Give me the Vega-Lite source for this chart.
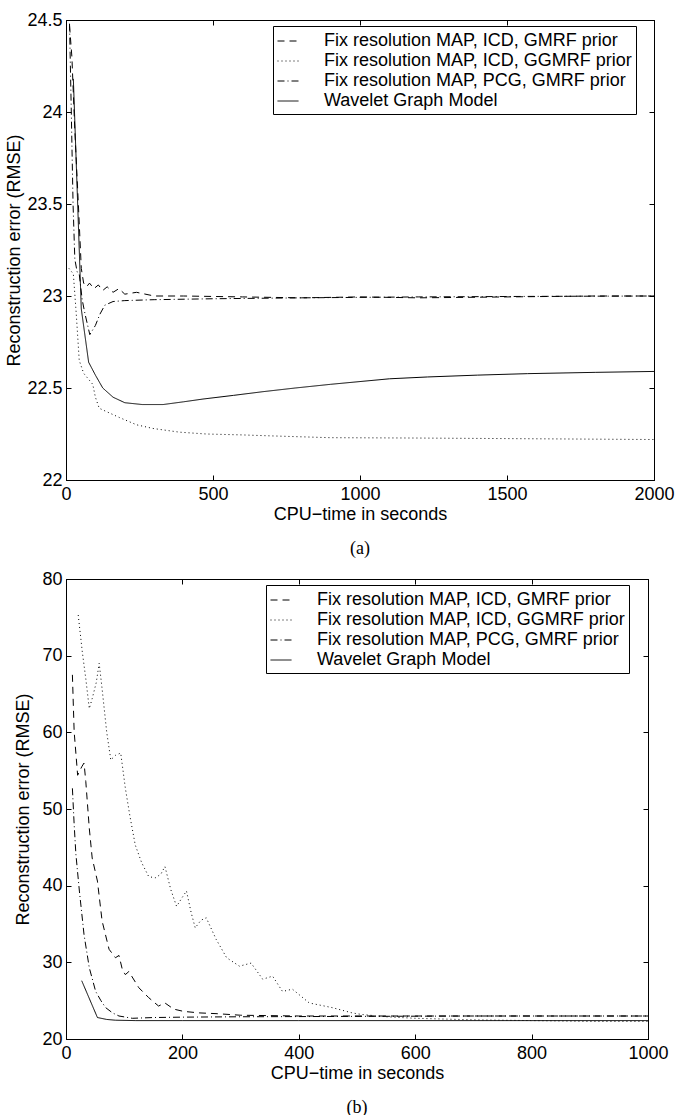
{
  "$schema": "https://vega.github.io/schema/vega-lite/v6.json",
  "background": "white",
  "padding": {"left": 5, "top": 10, "right": 4, "bottom": 0},
  "config": {
    "font": "Liberation Sans",
    "view": {"stroke": "black", "strokeWidth": 1},
    "axis": {
      "grid": false, "domainColor": "black", "domainWidth": 1, "tickColor": "black", "tickWidth": 1,
      "labelColor": "black", "titleColor": "black", "labelFont": "Liberation Sans", "titleFont": "Liberation Sans",
      "labelFontSize": 18, "titleFontSize": 18, "titleFontWeight": "normal",
      "tickSize": -5, "labelFlush": false, "labelOverlap": false
    },
    "axisX": {"labelPadding": 10, "titlePadding": 2},
    "axisY": {"labelPadding": 9},
    "legend": {
      "orient": "none", "fillColor": "white", "strokeColor": "black", "padding": 4,
      "symbolType": "stroke", "symbolStrokeColor": "black", "symbolStrokeWidth": 1, "symbolSize": 441,
      "labelFont": "Liberation Sans", "labelFontSize": 18, "labelColor": "black", "labelLimit": 500,
      "rowPadding": 0, "labelOffset": 25
    },
    "title": {"font": "Liberation Serif", "fontSize": 18, "fontWeight": "normal", "orient": "bottom", "color": "black", "offset": 17}
  },
  "datasets": {
    "a": [
      {"s": "Fix resolution MAP, ICD, GMRF prior", "t": 12, "e": 24.47},
      {"s": "Fix resolution MAP, ICD, GMRF prior", "t": 20, "e": 24.3},
      {"s": "Fix resolution MAP, ICD, GMRF prior", "t": 30, "e": 23.9},
      {"s": "Fix resolution MAP, ICD, GMRF prior", "t": 42, "e": 23.5},
      {"s": "Fix resolution MAP, ICD, GMRF prior", "t": 52, "e": 23.15},
      {"s": "Fix resolution MAP, ICD, GMRF prior", "t": 60, "e": 23.07},
      {"s": "Fix resolution MAP, ICD, GMRF prior", "t": 70, "e": 23.05},
      {"s": "Fix resolution MAP, ICD, GMRF prior", "t": 80, "e": 23.07},
      {"s": "Fix resolution MAP, ICD, GMRF prior", "t": 95, "e": 23.04},
      {"s": "Fix resolution MAP, ICD, GMRF prior", "t": 110, "e": 23.06},
      {"s": "Fix resolution MAP, ICD, GMRF prior", "t": 125, "e": 23.03},
      {"s": "Fix resolution MAP, ICD, GMRF prior", "t": 140, "e": 23.05},
      {"s": "Fix resolution MAP, ICD, GMRF prior", "t": 160, "e": 23.02},
      {"s": "Fix resolution MAP, ICD, GMRF prior", "t": 180, "e": 23.04},
      {"s": "Fix resolution MAP, ICD, GMRF prior", "t": 200, "e": 23.01},
      {"s": "Fix resolution MAP, ICD, GMRF prior", "t": 240, "e": 23.02},
      {"s": "Fix resolution MAP, ICD, GMRF prior", "t": 300, "e": 23.0},
      {"s": "Fix resolution MAP, ICD, GMRF prior", "t": 400, "e": 23.0},
      {"s": "Fix resolution MAP, ICD, GMRF prior", "t": 600, "e": 22.995},
      {"s": "Fix resolution MAP, ICD, GMRF prior", "t": 800, "e": 22.99},
      {"s": "Fix resolution MAP, ICD, GMRF prior", "t": 1000, "e": 22.995},
      {"s": "Fix resolution MAP, ICD, GMRF prior", "t": 1200, "e": 22.99},
      {"s": "Fix resolution MAP, ICD, GMRF prior", "t": 1500, "e": 22.995},
      {"s": "Fix resolution MAP, ICD, GMRF prior", "t": 1800, "e": 23.0},
      {"s": "Fix resolution MAP, ICD, GMRF prior", "t": 2000, "e": 23.0},

      {"s": "Fix resolution MAP, ICD, GGMRF prior", "t": 10, "e": 23.15},
      {"s": "Fix resolution MAP, ICD, GGMRF prior", "t": 25, "e": 23.12},
      {"s": "Fix resolution MAP, ICD, GGMRF prior", "t": 35, "e": 22.9},
      {"s": "Fix resolution MAP, ICD, GGMRF prior", "t": 45, "e": 22.65},
      {"s": "Fix resolution MAP, ICD, GGMRF prior", "t": 60, "e": 22.58},
      {"s": "Fix resolution MAP, ICD, GGMRF prior", "t": 91, "e": 22.52},
      {"s": "Fix resolution MAP, ICD, GGMRF prior", "t": 100, "e": 22.45},
      {"s": "Fix resolution MAP, ICD, GGMRF prior", "t": 113, "e": 22.39},
      {"s": "Fix resolution MAP, ICD, GGMRF prior", "t": 140, "e": 22.37},
      {"s": "Fix resolution MAP, ICD, GGMRF prior", "t": 181, "e": 22.34},
      {"s": "Fix resolution MAP, ICD, GGMRF prior", "t": 240, "e": 22.3},
      {"s": "Fix resolution MAP, ICD, GGMRF prior", "t": 296, "e": 22.28},
      {"s": "Fix resolution MAP, ICD, GGMRF prior", "t": 386, "e": 22.26},
      {"s": "Fix resolution MAP, ICD, GGMRF prior", "t": 477, "e": 22.25},
      {"s": "Fix resolution MAP, ICD, GGMRF prior", "t": 600, "e": 22.245},
      {"s": "Fix resolution MAP, ICD, GGMRF prior", "t": 693, "e": 22.24},
      {"s": "Fix resolution MAP, ICD, GGMRF prior", "t": 897, "e": 22.23},
      {"s": "Fix resolution MAP, ICD, GGMRF prior", "t": 1200, "e": 22.228},
      {"s": "Fix resolution MAP, ICD, GGMRF prior", "t": 1500, "e": 22.225},
      {"s": "Fix resolution MAP, ICD, GGMRF prior", "t": 2000, "e": 22.22},

      {"s": "Fix resolution MAP, PCG, GMRF prior", "t": 12, "e": 24.48},
      {"s": "Fix resolution MAP, PCG, GMRF prior", "t": 18, "e": 24.0},
      {"s": "Fix resolution MAP, PCG, GMRF prior", "t": 24, "e": 23.5},
      {"s": "Fix resolution MAP, PCG, GMRF prior", "t": 30, "e": 23.2},
      {"s": "Fix resolution MAP, PCG, GMRF prior", "t": 38, "e": 23.13},
      {"s": "Fix resolution MAP, PCG, GMRF prior", "t": 45, "e": 23.12},
      {"s": "Fix resolution MAP, PCG, GMRF prior", "t": 55, "e": 22.98},
      {"s": "Fix resolution MAP, PCG, GMRF prior", "t": 65, "e": 22.9},
      {"s": "Fix resolution MAP, PCG, GMRF prior", "t": 81, "e": 22.79},
      {"s": "Fix resolution MAP, PCG, GMRF prior", "t": 100, "e": 22.84},
      {"s": "Fix resolution MAP, PCG, GMRF prior", "t": 115, "e": 22.9},
      {"s": "Fix resolution MAP, PCG, GMRF prior", "t": 132, "e": 22.95},
      {"s": "Fix resolution MAP, PCG, GMRF prior", "t": 160, "e": 22.97},
      {"s": "Fix resolution MAP, PCG, GMRF prior", "t": 200, "e": 22.975},
      {"s": "Fix resolution MAP, PCG, GMRF prior", "t": 300, "e": 22.98},
      {"s": "Fix resolution MAP, PCG, GMRF prior", "t": 500, "e": 22.985},
      {"s": "Fix resolution MAP, PCG, GMRF prior", "t": 800, "e": 22.99},
      {"s": "Fix resolution MAP, PCG, GMRF prior", "t": 1200, "e": 22.995},
      {"s": "Fix resolution MAP, PCG, GMRF prior", "t": 1600, "e": 22.998},
      {"s": "Fix resolution MAP, PCG, GMRF prior", "t": 2000, "e": 23.0},

      {"s": "Wavelet Graph Model", "t": 25, "e": 24.18},
      {"s": "Wavelet Graph Model", "t": 52, "e": 22.93},
      {"s": "Wavelet Graph Model", "t": 77, "e": 22.64},
      {"s": "Wavelet Graph Model", "t": 100, "e": 22.57},
      {"s": "Wavelet Graph Model", "t": 125, "e": 22.5},
      {"s": "Wavelet Graph Model", "t": 160, "e": 22.45},
      {"s": "Wavelet Graph Model", "t": 200, "e": 22.42},
      {"s": "Wavelet Graph Model", "t": 260, "e": 22.41},
      {"s": "Wavelet Graph Model", "t": 330, "e": 22.41},
      {"s": "Wavelet Graph Model", "t": 400, "e": 22.425},
      {"s": "Wavelet Graph Model", "t": 466, "e": 22.44},
      {"s": "Wavelet Graph Model", "t": 570, "e": 22.46},
      {"s": "Wavelet Graph Model", "t": 670, "e": 22.48},
      {"s": "Wavelet Graph Model", "t": 780, "e": 22.5},
      {"s": "Wavelet Graph Model", "t": 900, "e": 22.52},
      {"s": "Wavelet Graph Model", "t": 1000, "e": 22.535},
      {"s": "Wavelet Graph Model", "t": 1100, "e": 22.55},
      {"s": "Wavelet Graph Model", "t": 1230, "e": 22.56},
      {"s": "Wavelet Graph Model", "t": 1400, "e": 22.57},
      {"s": "Wavelet Graph Model", "t": 1570, "e": 22.578},
      {"s": "Wavelet Graph Model", "t": 1800, "e": 22.585},
      {"s": "Wavelet Graph Model", "t": 2000, "e": 22.59}
    ],
    "b": [
      {"s": "Fix resolution MAP, ICD, GMRF prior", "t": 11, "e": 67.5},
      {"s": "Fix resolution MAP, ICD, GMRF prior", "t": 14, "e": 60.1},
      {"s": "Fix resolution MAP, ICD, GMRF prior", "t": 20, "e": 54.4},
      {"s": "Fix resolution MAP, ICD, GMRF prior", "t": 27, "e": 55.5},
      {"s": "Fix resolution MAP, ICD, GMRF prior", "t": 31, "e": 56.0},
      {"s": "Fix resolution MAP, ICD, GMRF prior", "t": 34, "e": 53.6},
      {"s": "Fix resolution MAP, ICD, GMRF prior", "t": 40, "e": 47.5},
      {"s": "Fix resolution MAP, ICD, GMRF prior", "t": 45, "e": 43.6},
      {"s": "Fix resolution MAP, ICD, GMRF prior", "t": 54, "e": 40.6},
      {"s": "Fix resolution MAP, ICD, GMRF prior", "t": 62, "e": 35.4},
      {"s": "Fix resolution MAP, ICD, GMRF prior", "t": 74, "e": 31.7},
      {"s": "Fix resolution MAP, ICD, GMRF prior", "t": 85, "e": 30.6},
      {"s": "Fix resolution MAP, ICD, GMRF prior", "t": 91, "e": 30.9},
      {"s": "Fix resolution MAP, ICD, GMRF prior", "t": 97, "e": 29.0},
      {"s": "Fix resolution MAP, ICD, GMRF prior", "t": 102, "e": 28.4},
      {"s": "Fix resolution MAP, ICD, GMRF prior", "t": 108, "e": 28.8},
      {"s": "Fix resolution MAP, ICD, GMRF prior", "t": 125, "e": 26.7},
      {"s": "Fix resolution MAP, ICD, GMRF prior", "t": 142, "e": 25.4},
      {"s": "Fix resolution MAP, ICD, GMRF prior", "t": 159, "e": 24.3},
      {"s": "Fix resolution MAP, ICD, GMRF prior", "t": 170, "e": 24.7},
      {"s": "Fix resolution MAP, ICD, GMRF prior", "t": 185, "e": 23.9},
      {"s": "Fix resolution MAP, ICD, GMRF prior", "t": 202, "e": 23.6},
      {"s": "Fix resolution MAP, ICD, GMRF prior", "t": 230, "e": 23.4},
      {"s": "Fix resolution MAP, ICD, GMRF prior", "t": 260, "e": 23.3},
      {"s": "Fix resolution MAP, ICD, GMRF prior", "t": 300, "e": 23.1},
      {"s": "Fix resolution MAP, ICD, GMRF prior", "t": 400, "e": 23.0},
      {"s": "Fix resolution MAP, ICD, GMRF prior", "t": 600, "e": 23.0},
      {"s": "Fix resolution MAP, ICD, GMRF prior", "t": 800, "e": 23.0},
      {"s": "Fix resolution MAP, ICD, GMRF prior", "t": 1000, "e": 23.0},

      {"s": "Fix resolution MAP, ICD, GGMRF prior", "t": 21, "e": 75.3},
      {"s": "Fix resolution MAP, ICD, GGMRF prior", "t": 28, "e": 70.5},
      {"s": "Fix resolution MAP, ICD, GGMRF prior", "t": 34, "e": 67.0},
      {"s": "Fix resolution MAP, ICD, GGMRF prior", "t": 40, "e": 63.1},
      {"s": "Fix resolution MAP, ICD, GGMRF prior", "t": 45, "e": 64.4},
      {"s": "Fix resolution MAP, ICD, GGMRF prior", "t": 52, "e": 66.5},
      {"s": "Fix resolution MAP, ICD, GGMRF prior", "t": 57, "e": 69.0},
      {"s": "Fix resolution MAP, ICD, GGMRF prior", "t": 62, "e": 65.7},
      {"s": "Fix resolution MAP, ICD, GGMRF prior", "t": 70, "e": 60.0},
      {"s": "Fix resolution MAP, ICD, GGMRF prior", "t": 77, "e": 56.4},
      {"s": "Fix resolution MAP, ICD, GGMRF prior", "t": 85, "e": 57.0},
      {"s": "Fix resolution MAP, ICD, GGMRF prior", "t": 94, "e": 57.3},
      {"s": "Fix resolution MAP, ICD, GGMRF prior", "t": 102, "e": 52.7},
      {"s": "Fix resolution MAP, ICD, GGMRF prior", "t": 110, "e": 49.0},
      {"s": "Fix resolution MAP, ICD, GGMRF prior", "t": 119, "e": 45.3},
      {"s": "Fix resolution MAP, ICD, GGMRF prior", "t": 130, "e": 43.0},
      {"s": "Fix resolution MAP, ICD, GGMRF prior", "t": 142, "e": 41.2},
      {"s": "Fix resolution MAP, ICD, GGMRF prior", "t": 153, "e": 41.0},
      {"s": "Fix resolution MAP, ICD, GGMRF prior", "t": 163, "e": 41.5},
      {"s": "Fix resolution MAP, ICD, GGMRF prior", "t": 170, "e": 42.5},
      {"s": "Fix resolution MAP, ICD, GGMRF prior", "t": 180, "e": 39.5},
      {"s": "Fix resolution MAP, ICD, GGMRF prior", "t": 190, "e": 37.3},
      {"s": "Fix resolution MAP, ICD, GGMRF prior", "t": 200, "e": 38.5},
      {"s": "Fix resolution MAP, ICD, GGMRF prior", "t": 207, "e": 39.3},
      {"s": "Fix resolution MAP, ICD, GGMRF prior", "t": 215, "e": 36.5},
      {"s": "Fix resolution MAP, ICD, GGMRF prior", "t": 222, "e": 34.5},
      {"s": "Fix resolution MAP, ICD, GGMRF prior", "t": 232, "e": 35.5},
      {"s": "Fix resolution MAP, ICD, GGMRF prior", "t": 241, "e": 35.8},
      {"s": "Fix resolution MAP, ICD, GGMRF prior", "t": 258, "e": 33.0},
      {"s": "Fix resolution MAP, ICD, GGMRF prior", "t": 276, "e": 30.6},
      {"s": "Fix resolution MAP, ICD, GGMRF prior", "t": 298, "e": 29.5},
      {"s": "Fix resolution MAP, ICD, GGMRF prior", "t": 318, "e": 29.9},
      {"s": "Fix resolution MAP, ICD, GGMRF prior", "t": 338, "e": 27.8},
      {"s": "Fix resolution MAP, ICD, GGMRF prior", "t": 355, "e": 28.2},
      {"s": "Fix resolution MAP, ICD, GGMRF prior", "t": 372, "e": 26.2},
      {"s": "Fix resolution MAP, ICD, GGMRF prior", "t": 389, "e": 26.5},
      {"s": "Fix resolution MAP, ICD, GGMRF prior", "t": 418, "e": 24.7},
      {"s": "Fix resolution MAP, ICD, GGMRF prior", "t": 457, "e": 24.1},
      {"s": "Fix resolution MAP, ICD, GGMRF prior", "t": 492, "e": 23.4},
      {"s": "Fix resolution MAP, ICD, GGMRF prior", "t": 508, "e": 23.2},
      {"s": "Fix resolution MAP, ICD, GGMRF prior", "t": 550, "e": 22.9},
      {"s": "Fix resolution MAP, ICD, GGMRF prior", "t": 600, "e": 22.7},
      {"s": "Fix resolution MAP, ICD, GGMRF prior", "t": 700, "e": 22.5},
      {"s": "Fix resolution MAP, ICD, GGMRF prior", "t": 800, "e": 22.4},
      {"s": "Fix resolution MAP, ICD, GGMRF prior", "t": 900, "e": 22.3},
      {"s": "Fix resolution MAP, ICD, GGMRF prior", "t": 1000, "e": 22.3},

      {"s": "Fix resolution MAP, PCG, GMRF prior", "t": 11, "e": 52.7},
      {"s": "Fix resolution MAP, PCG, GMRF prior", "t": 14, "e": 48.0},
      {"s": "Fix resolution MAP, PCG, GMRF prior", "t": 17, "e": 44.1},
      {"s": "Fix resolution MAP, PCG, GMRF prior", "t": 23, "e": 39.3},
      {"s": "Fix resolution MAP, PCG, GMRF prior", "t": 31, "e": 33.6},
      {"s": "Fix resolution MAP, PCG, GMRF prior", "t": 40, "e": 29.3},
      {"s": "Fix resolution MAP, PCG, GMRF prior", "t": 51, "e": 26.2},
      {"s": "Fix resolution MAP, PCG, GMRF prior", "t": 60, "e": 25.0},
      {"s": "Fix resolution MAP, PCG, GMRF prior", "t": 68, "e": 24.1},
      {"s": "Fix resolution MAP, PCG, GMRF prior", "t": 80, "e": 23.4},
      {"s": "Fix resolution MAP, PCG, GMRF prior", "t": 91, "e": 23.0},
      {"s": "Fix resolution MAP, PCG, GMRF prior", "t": 114, "e": 22.7},
      {"s": "Fix resolution MAP, PCG, GMRF prior", "t": 150, "e": 22.8},
      {"s": "Fix resolution MAP, PCG, GMRF prior", "t": 200, "e": 22.85},
      {"s": "Fix resolution MAP, PCG, GMRF prior", "t": 300, "e": 22.9},
      {"s": "Fix resolution MAP, PCG, GMRF prior", "t": 500, "e": 22.95},
      {"s": "Fix resolution MAP, PCG, GMRF prior", "t": 700, "e": 23.0},
      {"s": "Fix resolution MAP, PCG, GMRF prior", "t": 1000, "e": 23.0},

      {"s": "Wavelet Graph Model", "t": 27, "e": 27.6},
      {"s": "Wavelet Graph Model", "t": 54, "e": 22.8},
      {"s": "Wavelet Graph Model", "t": 70, "e": 22.55},
      {"s": "Wavelet Graph Model", "t": 85, "e": 22.45},
      {"s": "Wavelet Graph Model", "t": 120, "e": 22.4},
      {"s": "Wavelet Graph Model", "t": 200, "e": 22.4},
      {"s": "Wavelet Graph Model", "t": 400, "e": 22.4},
      {"s": "Wavelet Graph Model", "t": 600, "e": 22.4},
      {"s": "Wavelet Graph Model", "t": 800, "e": 22.4},
      {"s": "Wavelet Graph Model", "t": 1000, "e": 22.4}
    ]
  },
  "spacing": 10,
  "align": "none",
  "resolve": {
    "scale": {"x": "independent", "y": "independent", "strokeDash": "independent"},
    "legend": {"strokeDash": "independent"}
  },
  "vconcat": [
    {
      "data": {"name": "a"},
      "width": 588,
      "height": 460,
      "title": {"text": "(a)"},
      "layer": [
        {
          "mark": {"type": "line", "color": "black", "strokeWidth": 1},
          "encoding": {
            "x": {"field": "t", "type": "quantitative", "scale": {"domain": [0, 2000], "nice": false},
                  "axis": {"title": "CPU\u2212time in seconds", "values": [0, 500, 1000, 1500, 2000], "format": "d"}},
            "y": {"field": "e", "type": "quantitative", "scale": {"domain": [22, 24.5], "nice": false, "zero": false},
                  "axis": {"title": "Reconstruction error (RMSE)", "values": [22, 22.5, 23, 23.5, 24, 24.5], "format": "~g", "titlePadding": 3}},
            "strokeDash": {"field": "s", "type": "nominal",
              "scale": {"domain": ["Fix resolution MAP, ICD, GMRF prior", "Fix resolution MAP, ICD, GGMRF prior", "Fix resolution MAP, PCG, GMRF prior", "Wavelet Graph Model"],
                        "range": [[7, 5], [1, 3], [7, 3, 1, 3], [1, 0]]},
              "legend": {"title": null, "orient": "none", "legendX": 207, "legendY": 6}}
          }
        },
        {
          "mark": {"type": "line", "opacity": 0},
          "encoding": {
            "x": {"field": "t", "type": "quantitative", "axis": {"orient": "top", "labels": false, "title": null, "values": [0, 500, 1000, 1500, 2000]}},
            "y": {"field": "e", "type": "quantitative", "axis": {"orient": "right", "labels": false, "title": null, "values": [22, 22.5, 23, 23.5, 24, 24.5]}}
          }
        }
      ],
      "resolve": {"axis": {"x": "independent", "y": "independent"}}
    },
    {
      "data": {"name": "b"},
      "width": 582,
      "height": 460,
      "title": {"text": "(b)"},
      "layer": [
        {
          "mark": {"type": "line", "color": "black", "strokeWidth": 1},
          "encoding": {
            "x": {"field": "t", "type": "quantitative", "scale": {"domain": [0, 1000], "nice": false},
                  "axis": {"title": "CPU\u2212time in seconds", "values": [0, 200, 400, 600, 800, 1000], "format": "d"}},
            "y": {"field": "e", "type": "quantitative", "scale": {"domain": [20, 80], "nice": false, "zero": false},
                  "axis": {"title": "Reconstruction error (RMSE)", "values": [20, 30, 40, 50, 60, 70, 80], "titlePadding": 9}},
            "strokeDash": {"field": "s", "type": "nominal",
              "scale": {"domain": ["Fix resolution MAP, ICD, GMRF prior", "Fix resolution MAP, ICD, GGMRF prior", "Fix resolution MAP, PCG, GMRF prior", "Wavelet Graph Model"],
                        "range": [[7, 5], [1, 3], [7, 3, 1, 3], [1, 0]]},
              "legend": {"title": null, "orient": "none", "legendX": 200, "legendY": 6}}
          }
        },
        {
          "mark": {"type": "line", "opacity": 0},
          "encoding": {
            "x": {"field": "t", "type": "quantitative", "axis": {"orient": "top", "labels": false, "title": null, "values": [0, 200, 400, 600, 800, 1000]}},
            "y": {"field": "e", "type": "quantitative", "axis": {"orient": "right", "labels": false, "title": null, "values": [20, 30, 40, 50, 60, 70, 80]}}
          }
        }
      ],
      "resolve": {"axis": {"x": "independent", "y": "independent"}}
    }
  ]
}
